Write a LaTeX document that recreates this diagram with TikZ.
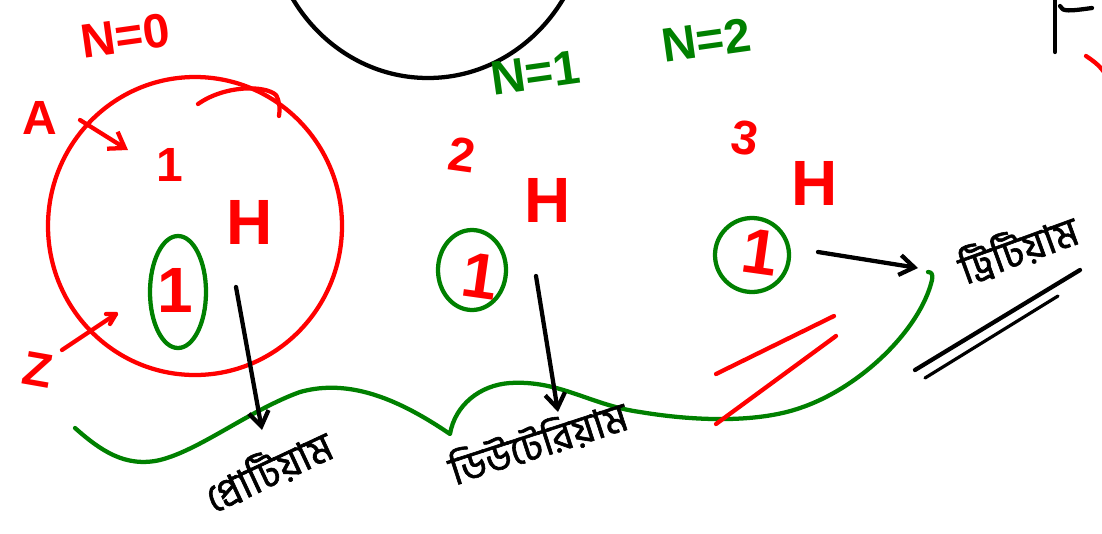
\documentclass[tikz,border=0pt]{standalone}
\usepackage{fontspec}
\setmainfont{Liberation Sans}
\newfontfamily\bn[Script=Bengali,FakeBold=1.5]{Hind Siliguri}
\usetikzlibrary{arrows.meta}
\definecolor{pg}{RGB}{0,128,0}
\definecolor{pr}{RGB}{255,0,0}
\tikzset{
  pen/.style={line width=3.2pt, line cap=round, line join=round},
  rtxt/.style={text=pr, inner sep=0pt},
  gtxt/.style={text=pg, inner sep=0pt},
  btxt/.style={text=black, inner sep=0pt},
  big/.style={font=\bfseries\fontsize{48}{48}\selectfont},
  mid/.style={font=\bfseries\fontsize{36}{36}\selectfont},
  bng/.style={font=\bn\fontsize{30}{30}\selectfont},
  arr/.style={pen, -{Straight Barb[length=11pt,width=15pt,line width=3.2pt]}},
}
\begin{document}
\begin{tikzpicture}[x=0.75pt,y=-0.75pt]
\useasboundingbox (0,0) rectangle (1102,533);
\begin{scope}
\clip (0,0) rectangle (1102,533);
% big black circle at top
\draw[pen] (428,-92) ellipse (160 and 170);
% top-right black marks
\draw[pen] (1055,0) -- (1055,52);
\draw[pen] (1060,6) .. controls (1062,12) and (1070,11) .. (1092,8);
\draw[pen, pr] (1086,56) .. controls (1092,60) and (1098,64) .. (1104,72);
\end{scope}

% ---- first group ----
\node[rtxt, mid, rotate=8] (n0) at (125,36) {N=0};
\node[rtxt, mid] (A) at (40,118) {A};
\coordinate (aS) at (80,120);
\coordinate (aE) at (128,150);
\draw[arr, pr] (aS) -- (aE);
\node[rtxt, mid] (one1) at (170,165) {1};
\draw[pen, pr] (195,226) ellipse (147 and 149);
\draw[pen, pr] (198,104) .. controls (225,85) and (265,85) .. (276,95) .. controls (280,102) and (280,110) .. (279,116);
\node[rtxt, big] (H1) at (250,222) {H};
\draw[pen, pg] (178,292) ellipse (28 and 56);
\node[rtxt, big] (c1) at (175,290) {1};
\node[rtxt, mid, rotate=-10] (Z) at (38,370) {Z};
\coordinate (zS) at (62,350);
\coordinate (zE) at (116,314);
\draw[pen, pr] (zS) -- (zE);
\draw[pen, pr] (106,314) -- (116,314) -- (110,324);

% green wavy line
\draw[pen, pg] (75,428) .. controls (100,450) and (125,468) .. (160,460)
  .. controls (200,450) and (250,410) .. (300,392)
  .. controls (350,378) and (400,400) .. (450,434)
  .. controls (455,405) and (480,385) .. (510,383)
  .. controls (560,380) and (590,405) .. (640,412)
  .. controls (700,422) and (760,422) .. (800,408)
  .. controls (860,388) and (920,330) .. (932,280)
  .. controls (933,275) and (932,272) .. (928,272);

% black arrows down
\coordinate (d1S) at (236,287);
\coordinate (d1E) at (262,430);
\draw[arr] (d1S) -- (d1E);
\coordinate (d2S) at (536,276);
\coordinate (d2E) at (558,412);
\draw[arr] (d2S) -- (d2E);
\node[btxt, bng, rotate=25] (prot) at (268,470) {প্রোটিয়াম};

% ---- second group ----
\node[rtxt, mid, rotate=-8] (two) at (462,155) {2};
\node[gtxt, mid, rotate=8] (n1) at (535,73) {N=1};
\node[rtxt, big] (H2) at (548,200) {H};
\draw[pen, pg] (472,270) ellipse (34 and 40);
\node[rtxt, big, rotate=-8] (c2) at (480,276) {1};
\node[btxt, bng, rotate=18] (deut) at (538,442) {ডিউটেরিয়াম};

% ---- third group ----
\node[rtxt, mid, rotate=-8] (three) at (745,138) {3};
\node[gtxt, mid, rotate=8] (n2) at (706,40) {N=2};
\node[rtxt, big] (H3) at (815,183) {H};
\draw[pen, pg] (752,255) circle (37);
\node[rtxt, big, rotate=-8] (c3) at (760,252) {1};
\coordinate (r3S) at (818,252);
\coordinate (r3E) at (918,268);
\draw[arr] (r3S) -- (r3E);
\node[btxt, bng, rotate=20] (trit) at (1018,248) {ট্রিটিয়াম};
\draw[pen] (915,370) -- (1080,270);
\draw[pen, line width=2.4pt] (925,378) -- (1058,296);
\draw[pen, pr] (716,374) -- (834,316);
\draw[pen, pr] (716,424) -- (836,336);
\end{tikzpicture}
\end{document}
